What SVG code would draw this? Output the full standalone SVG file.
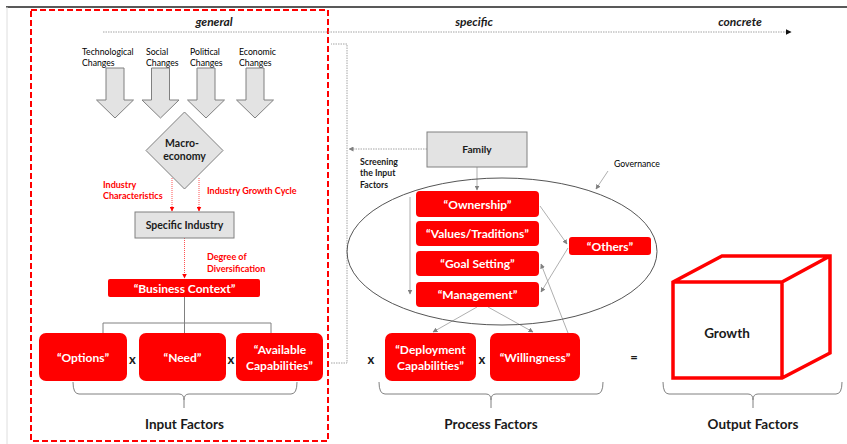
<svg xmlns="http://www.w3.org/2000/svg" width="847" height="444" viewBox="0 0 847 444">
  <style>
    text { font-family: Lato, "Liberation Sans", Arial, sans-serif; fill: #1a1a1a; }
    .b { font-weight: bold; }
    .sm { font-size: 8.7px; fill: #000000; }
    .red { fill: #ff0000; font-weight: bold; font-size: 9px; }
    .wt { fill: #ffffff; font-weight: bold; font-size: 12px; text-anchor: middle; }
    .mid { text-anchor: middle; }
    .ax { font-size: 12px; font-weight: bold; font-style: italic; text-anchor: middle; }
    .ttl { font-size: 13.5px; font-weight: bold; text-anchor: middle; }
    .op { font-size: 13px; font-weight: bold; text-anchor: middle; }
    .gbox { fill: #e3e3e3; stroke: #808080; stroke-width: 1; }
    .rbox { fill: #ff0000; }
    .conn { fill: none; stroke: #a6a6a6; stroke-width: 0.9; }
    .dot { fill: none; stroke: #9a9a9a; stroke-width: 0.9; stroke-dasharray: 1.5 1; }
    .rdot { fill: none; stroke: #ff4040; stroke-width: 0.9; stroke-dasharray: 1 1; }
    .brace { fill: none; stroke: #808080; stroke-width: 1; }
  </style>
  <defs>
    <marker id="ag" viewBox="0 0 10 10" refX="9" refY="5" markerWidth="5" markerHeight="5" markerUnits="userSpaceOnUse" orient="auto">
      <path d="M0,0 L10,5 L0,10 z" fill="#808080"/>
    </marker>
    <marker id="ab" viewBox="0 0 10 10" refX="9" refY="5" markerWidth="6" markerHeight="6" markerUnits="userSpaceOnUse" orient="auto">
      <path d="M0,0 L10,5 L0,10 z" fill="#111111"/>
    </marker>
    <marker id="ar" viewBox="0 0 10 10" refX="9" refY="5" markerWidth="5" markerHeight="5" markerUnits="userSpaceOnUse" orient="auto">
      <path d="M0,0 L10,5 L0,10 z" fill="#ff0000"/>
    </marker>
  </defs>

  <rect width="847" height="444" fill="#ffffff"/>
  <!-- frame lines -->
  <line x1="6" y1="7" x2="847" y2="7" stroke="#222" stroke-width="1.5"/>
  <line x1="7" y1="7" x2="7" y2="444" stroke="#dedede" stroke-width="1"/>

  <!-- scope of the input side -->
  <rect x="31" y="10" width="297" height="431" fill="none" stroke="#ff0000" stroke-width="2" stroke-dasharray="6 3"/>

  <!-- axis labels -->
  <text class="ax" x="214" y="26">general</text>
  <text class="ax" x="474" y="26">specific</text>
  <text class="ax" x="740" y="26">concrete</text>

  <!-- connectors -->
  <g id="connectors">
    <line class="dot" x1="103" y1="32" x2="791" y2="32" marker-end="url(#ab)"/>
    <polyline class="dot" points="331,363 347,363 347,44 331,44"/>
    <line class="dot" x1="427" y1="149" x2="349" y2="149" marker-end="url(#ag)"/>
    <line class="conn" x1="477" y1="167" x2="477" y2="190" marker-end="url(#ag)"/>
    <line class="conn" x1="608" y1="171" x2="596" y2="189" marker-end="url(#ag)"/>
    <line class="conn" x1="410" y1="197" x2="410" y2="294" marker-end="url(#ag)"/>
    <line class="conn" x1="540" y1="206" x2="567" y2="244" marker-end="url(#ag)"/>
    <line class="conn" x1="568" y1="248" x2="541" y2="292" marker-end="url(#ag)"/>
    <line class="conn" x1="568" y1="333" x2="541" y2="264" marker-end="url(#ag)"/>
    <line class="conn" x1="477" y1="307" x2="433" y2="332" marker-end="url(#ag)"/>
    <line class="conn" x1="488" y1="307" x2="533" y2="332" marker-end="url(#ag)"/>
    <line class="rdot" x1="172" y1="178" x2="172" y2="211" marker-end="url(#ar)"/>
    <line class="rdot" x1="199" y1="178" x2="199" y2="211" marker-end="url(#ar)"/>
    <line class="rdot" x1="184.5" y1="238" x2="184.5" y2="278" marker-end="url(#ar)"/>
    <path class="brace" d="M184.5,297 V333 M103,333 V323 H271 V336"/>
    <!-- braces -->
    <path class="brace" d="M73,382 Q73,394 79,394 H179 Q184,394 184,400 V408 M184,400 Q184,394 189,394 H291 Q297,394 297,382"/>
    <path class="brace" d="M379,382 Q379,394 385,394 H486 Q491,394 491,400 V408 M491,400 Q491,394 496,394 H597 Q603,394 603,382"/>
    <path class="brace" d="M663,382 Q663,394 669,394 H748 Q753,394 753,400 V408 M753,400 Q753,394 758,394 H836 Q842,394 842,382"/>
  </g>

  <!-- environmental changes -->
  <g id="changes-tech">
    <text class="sm" x="82" y="55">Technological</text>
    <text class="sm" x="82" y="66">Changes</text>
    <path class="gbox" d="M106,68 H124 V100 H133.5 L115,118 L96.5,100 H106 Z"/>
  </g>
  <g id="changes-social">
    <text class="sm" x="146" y="55">Social</text>
    <text class="sm" x="146" y="66">Changes</text>
    <path class="gbox" d="M151.5,68 H169.5 V100 H179 L160.5,118 L142,100 H151.5 Z"/>
  </g>
  <g id="changes-political">
    <text class="sm" x="190" y="55">Political</text>
    <text class="sm" x="190" y="66">Changes</text>
    <path class="gbox" d="M197,68 H215 V100 H224.5 L206,118 L187.5,100 H197 Z"/>
  </g>
  <g id="changes-economic">
    <text class="sm" x="239" y="55">Economic</text>
    <text class="sm" x="239" y="66">Changes</text>
    <path class="gbox" d="M246,68 H264 V100 H273.5 L255,118 L236.5,100 H246 Z"/>
  </g>

  <g id="macroeconomy">
    <path class="gbox" d="M184.5,112 L223,150.5 L184.5,189 L146,150.5 Z"/>
    <text class="b mid" x="182" y="147" font-size="10.5">Macro-</text>
    <text class="b mid" x="184.5" y="160" font-size="10.5">economy</text>
  </g>

  <g id="industry-labels">
    <text class="red" x="103" y="188">Industry</text>
    <text class="red" x="103" y="199">Characteristics</text>
    <text class="red" x="207" y="194">Industry Growth Cycle</text>
    <text class="red" x="207" y="260">Degree of</text>
    <text class="red" x="207" y="272">Diversification</text>
  </g>

  <g id="specific-industry">
    <rect class="gbox" x="135" y="212" width="99" height="26"/>
    <text class="b mid" x="184.5" y="229" font-size="10.5">Specific Industry</text>
  </g>

  <g id="business-context">
    <rect class="rbox" x="108" y="279" width="152" height="18" rx="2"/>
    <text class="wt" x="184.5" y="292.5">“Business Context”</text>
  </g>

  <g id="options">
    <rect class="rbox" x="39" y="333" width="88" height="48" rx="7"/>
    <text class="wt" x="83" y="362" font-size="12.5">“Options”</text>
  </g>
  <g id="need">
    <rect class="rbox" x="139" y="333" width="87" height="48" rx="7"/>
    <text class="wt" x="182.5" y="362" font-size="12.5">“Need”</text>
  </g>
  <g id="available-capabilities">
    <rect class="rbox" x="236" y="333" width="87" height="48" rx="7"/>
    <text class="wt" x="280" y="354" font-size="12.5">“Available</text>
    <text class="wt" x="279.5" y="370" font-size="12.5">Capabilities”</text>
  </g>
  <text class="op" x="132.5" y="364">x</text>
  <text class="op" x="231" y="364">x</text>

  <text class="ttl" x="184.5" y="429">Input Factors</text>

  <!-- process side -->
  <g id="family">
    <rect class="gbox" x="427" y="132" width="100" height="35"/>
    <text class="b mid" x="477" y="153" font-size="10.2">Family</text>
  </g>
  <g id="screening-label">
    <text class="b" x="360" y="165" font-size="8.7">Screening</text>
    <text class="b" x="360" y="176" font-size="8.7">the Input</text>
    <text class="b" x="360" y="188" font-size="8.7">Factors</text>
  </g>
  <text class="sm" x="614" y="167">Governance</text>

  <g id="governance">
    <ellipse cx="502" cy="251.5" rx="155" ry="73.5" fill="none" stroke="#555" stroke-width="1"/>
  </g>
  <g id="ownership">
    <rect class="rbox" x="416" y="191" width="123" height="26" rx="4"/>
    <text class="wt" x="477.5" y="208.5">“Ownership”</text>
  </g>
  <g id="values-traditions">
    <rect class="rbox" x="416" y="221" width="123" height="25" rx="4"/>
    <text class="wt" x="477.5" y="238">“Values/Traditions”</text>
  </g>
  <g id="goal-setting">
    <rect class="rbox" x="416" y="251" width="123" height="25" rx="4"/>
    <text class="wt" x="477.5" y="268">“Goal Setting”</text>
  </g>
  <g id="management">
    <rect class="rbox" x="416" y="282" width="123" height="25" rx="4"/>
    <text class="wt" x="477.5" y="299">“Management”</text>
  </g>
  <g id="others">
    <rect class="rbox" x="569" y="237" width="82" height="18" rx="3"/>
    <text class="wt" x="610" y="250.5">“Others”</text>
  </g>

  <g id="deployment-capabilities">
    <rect class="rbox" x="385" y="333" width="91" height="48" rx="7"/>
    <text class="wt" x="430.5" y="354">“Deployment</text>
    <text class="wt" x="430.5" y="370">Capabilities”</text>
  </g>
  <g id="willingness">
    <rect class="rbox" x="490" y="333" width="90" height="48" rx="7"/>
    <text class="wt" x="535" y="362">“Willingness”</text>
  </g>
  <text class="op" x="371" y="364">x</text>
  <text class="op" x="482" y="364">x</text>
  <text class="op" x="634" y="362">=</text>

  <text class="ttl" x="491" y="429">Process Factors</text>

  <!-- output -->
  <g id="growth">
    <path d="M673,282 L722,256 H830 V353 L782,378 H673 Z M673,282 H782 L830,256 M782,282 V378" fill="none" stroke="#ff0000" stroke-width="3.5" stroke-linejoin="miter"/>
    <text class="b mid" x="727" y="338" font-size="13.5">Growth</text>
  </g>

  <text class="ttl" x="753" y="429">Output Factors</text>
</svg>
